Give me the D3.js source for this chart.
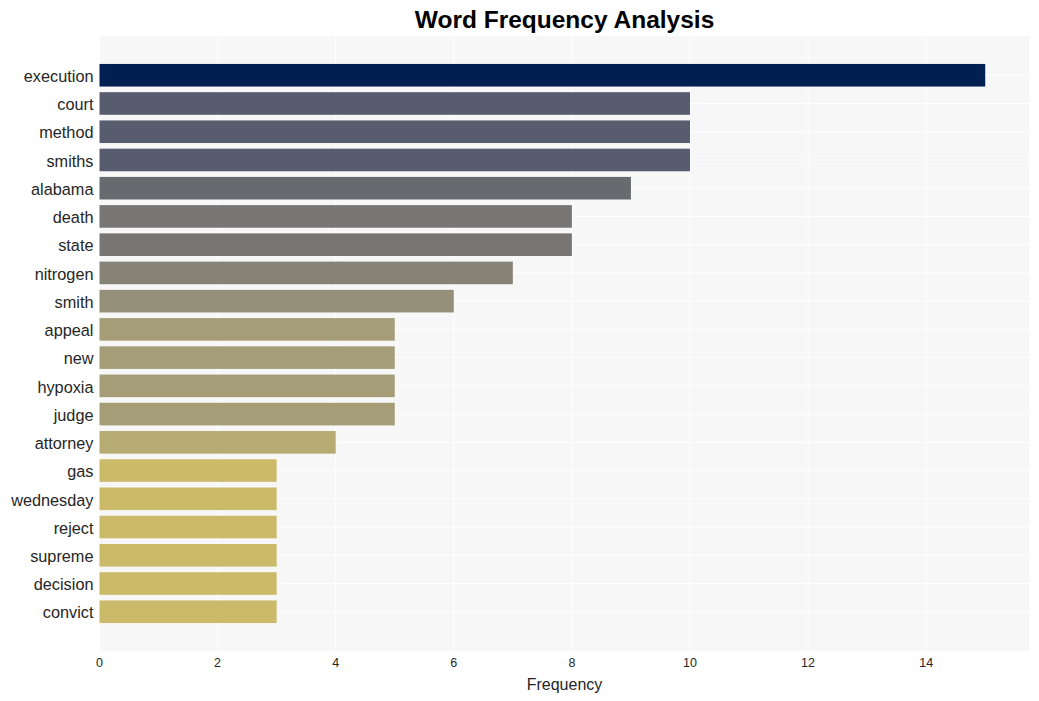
<!DOCTYPE html>
<html>
<head>
<meta charset="utf-8">
<script src="https://cdn.jsdelivr.net/npm/d3@7"></script>
<style>
  body { margin: 0; background: #fff; }
  svg { display: block; font-family: "Liberation Sans", Arial, sans-serif; }
</style>
</head>
<body>
<div id="chart"></div>
<script>
const words = ["execution", "court", "method", "smiths", "alabama", "death", "state",
  "nitrogen", "smith", "appeal", "new", "hypoxia", "judge", "attorney", "gas",
  "wednesday", "reject", "supreme", "decision", "convict"];
const counts = [15, 10, 10, 10, 9, 8, 8, 7, 6, 5, 5, 5, 5, 4, 3, 3, 3, 3, 3, 3];
const xTicks = [0, 2, 4, 6, 8, 10, 12, 14];

const width = 1039, height = 701;
const margin = {top: 36, right: 10, bottom: 50, left: 99.5};
const plotW = 1029.5 - margin.left, plotH = 651 - margin.top;

const svg = d3.select("#chart").append("svg")
  .attr("width", width)
  .attr("height", height);

const x = d3.scaleLinear().domain([0, d3.max(counts) * 1.05]).range([0, plotW]);
// matplotlib style limits: bars are 0.8 tall, 5% margin
const pad = 0.4 + 19.8 * 0.05;
const y = d3.scaleLinear().domain([-pad, words.length - 1 + pad]).range([0, plotH]);
const barH = y(0.8) - y(0);
const color = v => d3.interpolateCividis(1 - v / d3.max(counts));

const g = svg.append("g").attr("transform", `translate(${margin.left},${margin.top})`);

g.append("rect")
  .attr("width", plotW)
  .attr("height", plotH)
  .attr("fill", "#f7f7f7");

// grid
g.append("g")
  .selectAll("line")
  .data(xTicks)
  .enter().append("line")
  .attr("x1", d => x(d)).attr("x2", d => x(d))
  .attr("y1", 0).attr("y2", plotH)
  .attr("stroke", "#fff").attr("stroke-width", 1);

g.append("g")
  .selectAll("line")
  .data(words)
  .enter().append("line")
  .attr("x1", 0).attr("x2", plotW)
  .attr("y1", (d, i) => y(i)).attr("y2", (d, i) => y(i))
  .attr("stroke", "#fff").attr("stroke-width", 1);

// bars
g.append("g")
  .selectAll("rect")
  .data(counts)
  .enter().append("rect")
  .attr("x", 0)
  .attr("y", (d, i) => y(i) - barH / 2)
  .attr("width", d => x(d))
  .attr("height", barH)
  .attr("fill", d => color(d));

// y labels
g.append("g")
  .attr("text-anchor", "end")
  .selectAll("text")
  .data(words)
  .enter().append("text")
  .attr("x", -6)
  .attr("y", (d, i) => y(i) + 1)
  .attr("dy", "0.35em")
  .attr("font-size", 16.3)
  .attr("fill", "#262626")
  .text(d => d);

// x axis labels
g.append("g")
  .attr("text-anchor", "middle")
  .selectAll("text")
  .data(xTicks)
  .enter().append("text")
  .attr("x", d => x(d))
  .attr("y", plotH + 7)
  .attr("dy", "0.71em")
  .attr("font-size", 12.5)
  .attr("fill", "#262626")
  .text(d => d);

g.append("text")
  .attr("x", plotW / 2)
  .attr("y", plotH + 39)
  .attr("text-anchor", "middle")
  .attr("font-size", 16)
  .attr("fill", "#262626")
  .text("Frequency");

svg.append("text")
  .attr("x", margin.left + plotW / 2)
  .attr("y", 28)
  .attr("text-anchor", "middle")
  .attr("font-size", 24.5)
  .attr("font-weight", "bold")
  .attr("fill", "#000")
  .text("Word Frequency Analysis");
</script>
</body>
</html>
